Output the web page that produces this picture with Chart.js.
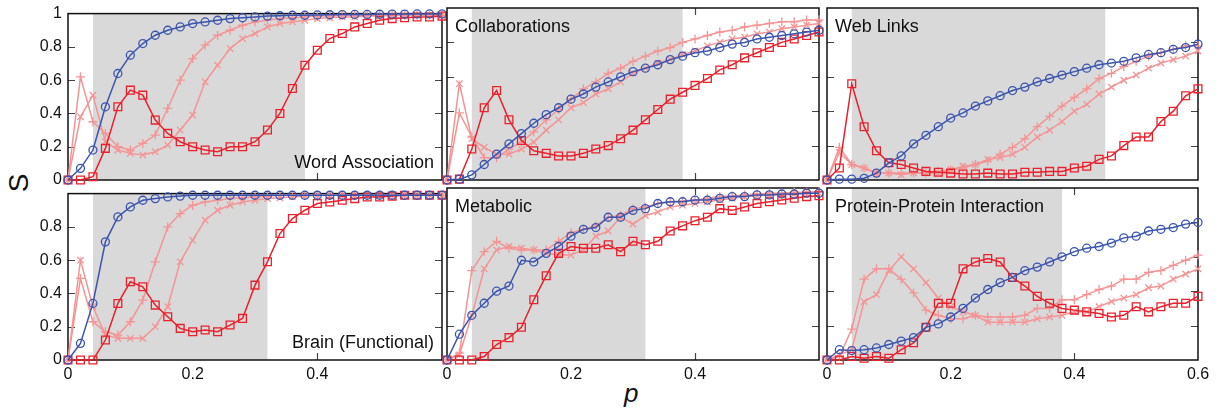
<!DOCTYPE html>
<html>
<head>
<meta charset="utf-8">
<script src="https://cdn.jsdelivr.net/npm/chart.js@4.4.1/dist/chart.umd.min.js"></script>
<style>
  body { margin: 0; background: #fff; }
  #wrap { position: relative; width: 1225px; height: 412px; overflow: hidden; background: #fff; }
  #wrap canvas { position: absolute; }
  .axis-label { position: absolute; font-family: 'Liberation Sans', Arial, sans-serif; color: #111; line-height: 1; }
  #ylab { left: 10px; top: 169px; font-size: 28px; transform: rotate(-90deg); transform-origin: 50% 50%; }
  #xlab { left: 624px; top: 380px; font-size: 26px; font-style: italic; }
</style>
</head>
<body>
<div id="wrap">
  <div class="axis-label" id="ylab">S</div>
  <div class="axis-label" id="xlab">p</div>
</div>
<script>
// fraction of removed nodes
const pValues = [0, 0.02, 0.04, 0.06, 0.08, 0.1, 0.12, 0.14, 0.16, 0.18, 0.2, 0.22, 0.24, 0.26, 0.28, 0.3,
                 0.32, 0.34, 0.36, 0.38, 0.4, 0.42, 0.44, 0.46, 0.48, 0.5, 0.52, 0.54, 0.56, 0.58, 0.6];

const panelNames = ['Word Association', 'Collaborations', 'Web Links',
                    'Brain (Functional)', 'Metabolic', 'Protein-Protein Interaction'];

// shaded window for each panel
const shadeStart = [0.04, 0.04, 0.04, 0.04, 0.04, 0.04];
const shadeEnd = [0.38, 0.38, 0.45, 0.32, 0.32, 0.38];

const wordCircle = [0, 0.07, 0.18, 0.44, 0.64, 0.75, 0.82, 0.87, 0.90, 0.92, 0.94, 0.95, 0.96, 0.97, 0.975, 0.98,
                    0.985, 0.987, 0.99, 0.99, 0.992, 0.993, 0.994, 0.995, 0.995, 0.996, 0.997, 0.997, 0.998, 0.998, 0.998];
const wordSquare = [0, 0, 0.02, 0.19, 0.44, 0.54, 0.51, 0.36, 0.28, 0.23, 0.20, 0.18, 0.17, 0.20, 0.20, 0.23,
                    0.30, 0.40, 0.55, 0.69, 0.78, 0.85, 0.88, 0.92, 0.94, 0.96, 0.97, 0.975, 0.98, 0.98, 0.985];
const wordPlus = [0, 0.62, 0.35, 0.28, 0.20, 0.18, 0.22, 0.27, 0.43, 0.60, 0.73, 0.81, 0.87, 0.90, 0.93, 0.95,
                  0.96, 0.97, 0.975, 0.98, 0.985, 0.985, 0.99, 0.99, 0.99, 0.99, 0.99, 0.99, 0.99, 0.99, 0.99];
const wordCross = [0, 0.38, 0.51, 0.23, 0.18, 0.16, 0.15, 0.17, 0.21, 0.30, 0.39, 0.59, 0.69, 0.79, 0.85, 0.88,
                   0.92, 0.94, 0.95, 0.96, 0.97, 0.975, 0.98, 0.98, 0.985, 0.985, 0.99, 0.99, 0.99, 0.99, 0.99];

const collabCircle = [0, 0.005, 0.03, 0.09, 0.15, 0.21, 0.27, 0.33, 0.38, 0.42, 0.47, 0.50, 0.54, 0.57, 0.60, 0.63,
                      0.65, 0.67, 0.70, 0.72, 0.74, 0.75, 0.77, 0.79, 0.80, 0.82, 0.83, 0.84, 0.85, 0.86, 0.87];
const collabSquare = [0, 0.005, 0.18, 0.42, 0.52, 0.35, 0.23, 0.17, 0.155, 0.14, 0.14, 0.155, 0.18, 0.20, 0.24, 0.29,
                      0.35, 0.41, 0.47, 0.51, 0.55, 0.59, 0.64, 0.67, 0.71, 0.74, 0.77, 0.80, 0.82, 0.84, 0.86];
const collabPlus = [0, 0.39, 0.25, 0.13, 0.13, 0.18, 0.22, 0.28, 0.35, 0.41, 0.47, 0.53, 0.57, 0.62, 0.65, 0.69,
                    0.72, 0.75, 0.77, 0.80, 0.82, 0.84, 0.86, 0.87, 0.89, 0.90, 0.91, 0.92, 0.92, 0.93, 0.93];
const collabCross = [0, 0.56, 0.24, 0.19, 0.15, 0.15, 0.18, 0.22, 0.29, 0.35, 0.42, 0.45, 0.50, 0.53, 0.57, 0.62,
                     0.65, 0.68, 0.70, 0.73, 0.75, 0.78, 0.80, 0.82, 0.83, 0.85, 0.86, 0.88, 0.89, 0.90, 0.91];

const webCircle = [0, 0.005, 0.005, 0.01, 0.04, 0.10, 0.14, 0.21, 0.26, 0.31, 0.36, 0.39, 0.43, 0.46, 0.49, 0.52,
                   0.54, 0.57, 0.59, 0.61, 0.63, 0.65, 0.67, 0.68, 0.69, 0.71, 0.73, 0.74, 0.76, 0.77, 0.79];
const webSquare = [0, 0.07, 0.56, 0.31, 0.17, 0.10, 0.09, 0.07, 0.05, 0.045, 0.04, 0.035, 0.035, 0.04, 0.035, 0.035,
                   0.045, 0.045, 0.05, 0.05, 0.07, 0.08, 0.12, 0.14, 0.20, 0.25, 0.25, 0.34, 0.40, 0.49, 0.53];
const webPlus = [0, 0.19, 0.09, 0.07, 0.04, 0.04, 0.04, 0.04, 0.04, 0.05, 0.06, 0.07, 0.09, 0.11, 0.15, 0.19,
                 0.24, 0.31, 0.37, 0.43, 0.48, 0.53, 0.59, 0.62, 0.66, 0.69, 0.72, 0.74, 0.76, 0.78, 0.78];
const webCross = [0, 0.16, 0.09, 0.07, 0.04, 0.04, 0.03, 0.04, 0.04, 0.04, 0.06, 0.08, 0.09, 0.12, 0.13, 0.15,
                  0.19, 0.25, 0.29, 0.34, 0.40, 0.44, 0.50, 0.54, 0.58, 0.61, 0.65, 0.68, 0.70, 0.72, 0.75];

const brainCircle = [0, 0.10, 0.34, 0.71, 0.86, 0.92, 0.96, 0.97, 0.98, 0.985, 0.99, 0.99, 0.99, 0.99, 0.99, 0.99,
                     0.99, 0.99, 0.99, 0.99, 0.99, 0.99, 0.99, 0.99, 0.99, 0.99, 0.99, 0.99, 0.99, 0.99, 0.99];
const brainSquare = [0, 0, 0, 0.12, 0.34, 0.47, 0.44, 0.33, 0.26, 0.19, 0.17, 0.18, 0.17, 0.21, 0.25, 0.45,
                     0.59, 0.76, 0.85, 0.90, 0.94, 0.95, 0.96, 0.97, 0.98, 0.98, 0.985, 0.99, 0.99, 0.99, 0.99];
const brainPlus = [0, 0.49, 0.23, 0.17, 0.15, 0.23, 0.36, 0.59, 0.80, 0.88, 0.93, 0.95, 0.96, 0.97, 0.975, 0.98,
                   0.985, 0.99, 0.99, 0.99, 0.99, 0.99, 0.99, 0.99, 0.99, 0.99, 0.99, 0.99, 0.99, 0.99, 0.99];
const brainCross = [0, 0.60, 0.32, 0.15, 0.13, 0.13, 0.13, 0.20, 0.32, 0.59, 0.72, 0.84, 0.90, 0.93, 0.95, 0.96,
                    0.97, 0.975, 0.98, 0.985, 0.99, 0.99, 0.99, 0.99, 0.99, 0.99, 0.99, 0.99, 0.99, 0.99, 0.99];

const metaCircle = [0, 0.15, 0.26, 0.33, 0.40, 0.43, 0.58, 0.57, 0.62, 0.66, 0.72, 0.76, 0.77, 0.83, 0.83, 0.87,
                    0.88, 0.91, 0.92, 0.92, 0.93, 0.93, 0.94, 0.95, 0.95, 0.96, 0.96, 0.965, 0.965, 0.97, 0.97];
const metaSquare = [0, 0, 0, 0.02, 0.09, 0.13, 0.19, 0.35, 0.49, 0.62, 0.66, 0.65, 0.65, 0.67, 0.63, 0.69,
                    0.67, 0.69, 0.75, 0.78, 0.81, 0.83, 0.88, 0.87, 0.89, 0.91, 0.92, 0.93, 0.94, 0.95, 0.955];
const metaPlus = [0, 0.04, 0.52, 0.63, 0.69, 0.65, 0.64, 0.64, 0.64, 0.69, 0.74, 0.76, 0.78, 0.83, 0.84, 0.88,
                  0.89, 0.91, 0.92, 0.925, 0.93, 0.94, 0.95, 0.955, 0.96, 0.965, 0.97, 0.97, 0.975, 0.975, 0.98];
const metaCross = [0, 0.03, 0.26, 0.53, 0.64, 0.66, 0.65, 0.64, 0.62, 0.61, 0.61, 0.64, 0.72, 0.75, 0.83, 0.79,
                   0.84, 0.86, 0.89, 0.90, 0.91, 0.92, 0.93, 0.94, 0.95, 0.955, 0.96, 0.96, 0.965, 0.97, 0.97];

const ppiCircle = [0, 0.06, 0.055, 0.06, 0.07, 0.09, 0.11, 0.13, 0.19, 0.21, 0.25, 0.30, 0.36, 0.41, 0.45, 0.48,
                   0.52, 0.54, 0.57, 0.60, 0.63, 0.65, 0.66, 0.68, 0.71, 0.72, 0.75, 0.76, 0.77, 0.79, 0.80];
const ppiSquare = [0, 0, 0.02, 0.01, 0.02, 0.01, 0.06, 0.10, 0.19, 0.33, 0.33, 0.53, 0.57, 0.59, 0.57, 0.48,
                   0.43, 0.37, 0.33, 0.30, 0.29, 0.28, 0.27, 0.25, 0.26, 0.31, 0.28, 0.31, 0.33, 0.33, 0.37];
const ppiPlus = [0, 0.02, 0.18, 0.47, 0.53, 0.53, 0.47, 0.39, 0.29, 0.26, 0.24, 0.24, 0.26, 0.25, 0.25, 0.25,
                 0.26, 0.30, 0.30, 0.35, 0.35, 0.38, 0.41, 0.43, 0.47, 0.47, 0.51, 0.52, 0.55, 0.58, 0.61];
const ppiCross = [0, 0.03, 0.06, 0.34, 0.38, 0.52, 0.60, 0.53, 0.45, 0.36, 0.31, 0.28, 0.26, 0.22, 0.22, 0.22,
                  0.22, 0.24, 0.25, 0.26, 0.28, 0.28, 0.31, 0.34, 0.36, 0.38, 0.42, 0.43, 0.47, 0.50, 0.53];

const yTicks = [0, 0.2, 0.4, 0.6, 0.8, 1];
const xTicks = [0, 0.2, 0.4, 0.6];

const BLUE = '#3a55ae';
const RED = '#e9212c';
const PINK = '#f59494';
const GRAY = '#d9d9d9';
const FONT = "'Liberation Sans', Arial, Helvetica, sans-serif";

// plot-area boxes [left, top, right, bottom] in page pixels
const cols = [[68, 442], [447, 819], [827, 1198]];
const rows = [[8, 180], [188, 360]];

const panels = [
  { series: [wordCircle, wordSquare, wordPlus, wordCross], corner: 'br' },
  { series: [collabCircle, collabSquare, collabPlus, collabCross], corner: 'tl' },
  { series: [webCircle, webSquare, webPlus, webCross], corner: 'tl' },
  { series: [brainCircle, brainSquare, brainPlus, brainCross], corner: 'br' },
  { series: [metaCircle, metaSquare, metaPlus, metaCross], corner: 'tl' },
  { series: [ppiCircle, ppiSquare, ppiPlus, ppiCross], corner: 'tl' }
];

const PAD_L = 68, PAD_T = 10, PAD_R = 24, PAD_B = 40;

const panelPlugin = {
  id: 'panelDecor',
  beforeDatasetsDraw(chart, args, opts) {
    const { ctx, chartArea: a, scales: { x, y } } = chart;
    ctx.save();
    // inward ticks
    ctx.strokeStyle = '#444';
    ctx.lineWidth = 1.2;
    ctx.beginPath();
    y.ticks.forEach(t => {
      if (t.value <= 0 || t.value >= 1) return;
      const py = Math.round(y.getPixelForValue(t.value)) + 0.5;
      ctx.moveTo(a.left, py); ctx.lineTo(a.left + 7, py);
      ctx.moveTo(a.right - 7, py); ctx.lineTo(a.right, py);
    });
    x.ticks.forEach(t => {
      if (t.value <= 0 || t.value >= 0.6) return;
      const px = Math.round(x.getPixelForValue(t.value)) + 0.5;
      ctx.moveTo(px, a.bottom); ctx.lineTo(px, a.bottom - 7);
      ctx.moveTo(px, a.top); ctx.lineTo(px, a.top + 7);
    });
    ctx.stroke();
    // shaded window
    const x0 = x.getPixelForValue(opts.shade[0]);
    const x1 = x.getPixelForValue(opts.shade[1]);
    ctx.fillStyle = GRAY;
    ctx.fillRect(x0, a.top, x1 - x0, a.bottom - a.top);
    // frame
    ctx.strokeStyle = '#111';
    ctx.lineWidth = 1.5;
    ctx.strokeRect(a.left, a.top, a.right - a.left, a.bottom - a.top);
    // name
    ctx.fillStyle = '#111';
    ctx.font = '18px ' + FONT;
    if (opts.corner === 'tl') {
      ctx.textAlign = 'left';
      ctx.textBaseline = 'alphabetic';
      ctx.fillText(opts.text, a.left + 8, a.top + 24);
    } else {
      ctx.textAlign = 'right';
      ctx.textBaseline = 'alphabetic';
      ctx.fillText(opts.text, a.right - 8, a.bottom - 12);
    }
    ctx.restore();
  }
};

const wrap = document.getElementById('wrap');

panels.forEach((panel, i) => {
  const col = i % 3, row = Math.floor(i / 3);
  const [L, R] = cols[col];
  const [T, B] = rows[row];
  const canvas = document.createElement('canvas');
  canvas.width = R - L + PAD_L + PAD_R;
  canvas.height = B - T + PAD_T + PAD_B;
  canvas.style.left = (L - PAD_L) + 'px';
  canvas.style.top = (T - PAD_T) + 'px';
  wrap.appendChild(canvas);

  const pts = arr => pValues.map((p, k) => ({ x: p, y: arr[k] }));
  const [circ, sq, plus, cross] = panel.series;
  const common = { fill: false, tension: 0, clip: false, borderWidth: 1.5, pointBorderWidth: 1.3,
                   pointBackgroundColor: 'rgba(0,0,0,0)', pointHoverRadius: 0 };

  new Chart(canvas, {
    type: 'line',
    data: {
      datasets: [
        { ...common, label: 'circle', data: pts(circ), borderColor: BLUE, pointBorderColor: BLUE,
          pointStyle: 'circle', pointRadius: 4 },
        { ...common, label: 'square', data: pts(sq), borderColor: RED, pointBorderColor: RED,
          pointStyle: 'rect', pointRadius: 5.5 },
        { ...common, label: 'plus', data: pts(plus), borderColor: PINK, pointBorderColor: PINK,
          pointStyle: 'cross', pointRadius: 4.5 },
        { ...common, label: 'cross', data: pts(cross), borderColor: PINK, pointBorderColor: PINK,
          pointStyle: 'crossRot', pointRadius: 4.5 }
      ]
    },
    options: {
      responsive: false,
      animation: false,
      devicePixelRatio: 1,
      layout: { padding: { top: PAD_T, right: PAD_R, left: 0, bottom: 0 } },
      plugins: {
        legend: { display: false },
        tooltip: { enabled: false },
        panelDecor: { text: panelNames[i], corner: panel.corner, shade: [shadeStart[i], shadeEnd[i]] }
      },
      scales: {
        x: {
          type: 'linear', min: 0, max: 0.6,
          afterBuildTicks: s => { s.ticks = xTicks.map(v => ({ value: v })); },
          afterFit: s => { s.height = PAD_B; },
          grid: { display: false, drawTicks: false },
          border: { display: false },
          ticks: {
            display: row === 1,
            padding: 5,
            color: '#111',
            font: { family: FONT, size: 16 },
            callback: v => (col < 2 && v >= 0.6) ? '' : String(+v.toFixed(1))
          }
        },
        y: {
          min: 0, max: 1,
          afterBuildTicks: s => { s.ticks = yTicks.map(v => ({ value: v })); },
          afterFit: s => { s.width = PAD_L; },
          grid: { display: false, drawTicks: false },
          border: { display: false },
          ticks: {
            display: col === 0,
            padding: 6,
            color: '#111',
            font: { family: FONT, size: 16 },
            callback: v => (row === 1 && v >= 1) ? '' : String(+v.toFixed(1))
          }
        }
      }
    },
    plugins: [panelPlugin]
  });
});
</script>
</body>
</html>
